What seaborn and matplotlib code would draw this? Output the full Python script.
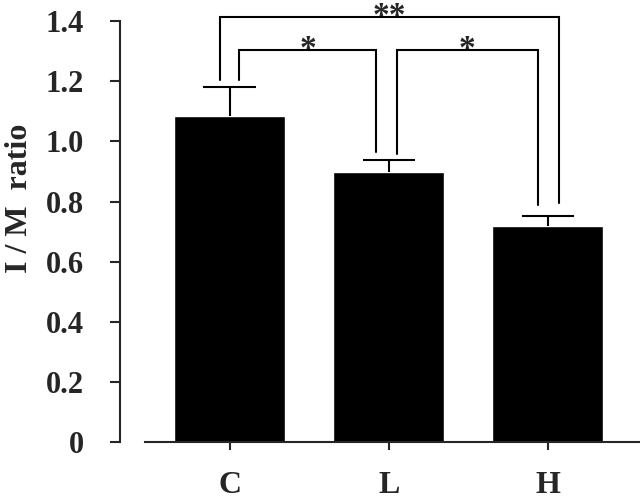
import matplotlib
matplotlib.use("Agg")
import matplotlib.pyplot as plt
import pandas as pd
import seaborn as sns

groups = ["C", "L", "H"]
means = [1.085, 0.897, 0.720]
errs = [0.095, 0.040, 0.033]

# significance brackets: (left x, right x, bar y, left leg end, right leg end, label)
brackets = [
    (0.06, 0.92, 1.304, 1.204, 0.965, "*"),
    (1.05, 1.94, 1.304, 0.958, 0.788, "*"),
    (-0.06, 2.07, 1.413, 1.204, 0.795, "**"),
]


def main() -> None:
    sns.set_style("ticks")
    plt.rcParams["font.family"] = ["Liberation Serif", "DejaVu Serif"]
    plt.rcParams["font.weight"] = "bold"

    df = pd.DataFrame({"group": groups, "ratio": means})

    fig = plt.figure(figsize=(6.4, 4.99), dpi=100)
    ax = fig.add_axes([0.1875, 0.1142, 0.8125, 0.8856])

    sns.barplot(data=df, x="group", y="ratio", color="black", width=0.70,
                errorbar=None, ax=ax, saturation=1)

    # upper-only error bars
    tops = [m + e for m, e in zip(means, errs)]
    xs = list(range(len(groups)))
    ax.vlines(xs, means, tops, color="black", lw=1.5)
    ax.hlines(tops, [x - 0.165 for x in xs], [x + 0.165 for x in xs],
              color="black", lw=1.5)

    for x0, x1, yb, yl, yr, lab in brackets:
        ax.plot([x0, x0, x1, x1], [yl, yb, yb, yr], color="black", lw=1.5,
                solid_joinstyle="miter")
        ax.text((x0 + x1) / 2, yb - 0.026, lab, ha="center", va="baseline",
                fontsize=24, fontweight="bold")

    ax.set_xlim(-0.69, 2.58)
    ax.set_ylim(0, 1.47)
    ax.set_yticks([0, 0.2, 0.4, 0.6, 0.8, 1.0, 1.2, 1.4])
    ax.set_yticklabels(["0", "0.2", "0.4", "0.6", "0.8", "1.0", "1.2", "1.4"])
    ax.spines["left"].set_bounds(0, 1.4)
    ax.spines["bottom"].set_bounds(-0.53, 2.58)
    ax.spines["top"].set_visible(False)
    ax.spines["right"].set_visible(False)
    for s in ("left", "bottom"):
        ax.spines[s].set_linewidth(1.5)
    ax.tick_params(axis="y", length=7, width=1.5, labelsize=22, pad=19)
    ax.tick_params(axis="x", length=6, width=1.5, labelsize=23, pad=15)
    for t in ax.get_xticklabels() + ax.get_yticklabels():
        t.set_fontweight("bold")

    ax.set_xlabel("")
    ax.set_ylabel("I / M  ratio", fontsize=23, fontweight="bold")
    ax.yaxis.set_label_coords(-0.165, 0.552)

    fig.savefig("out.png", dpi=100)
    plt.close(fig)


if __name__ == "__main__":
    main()
